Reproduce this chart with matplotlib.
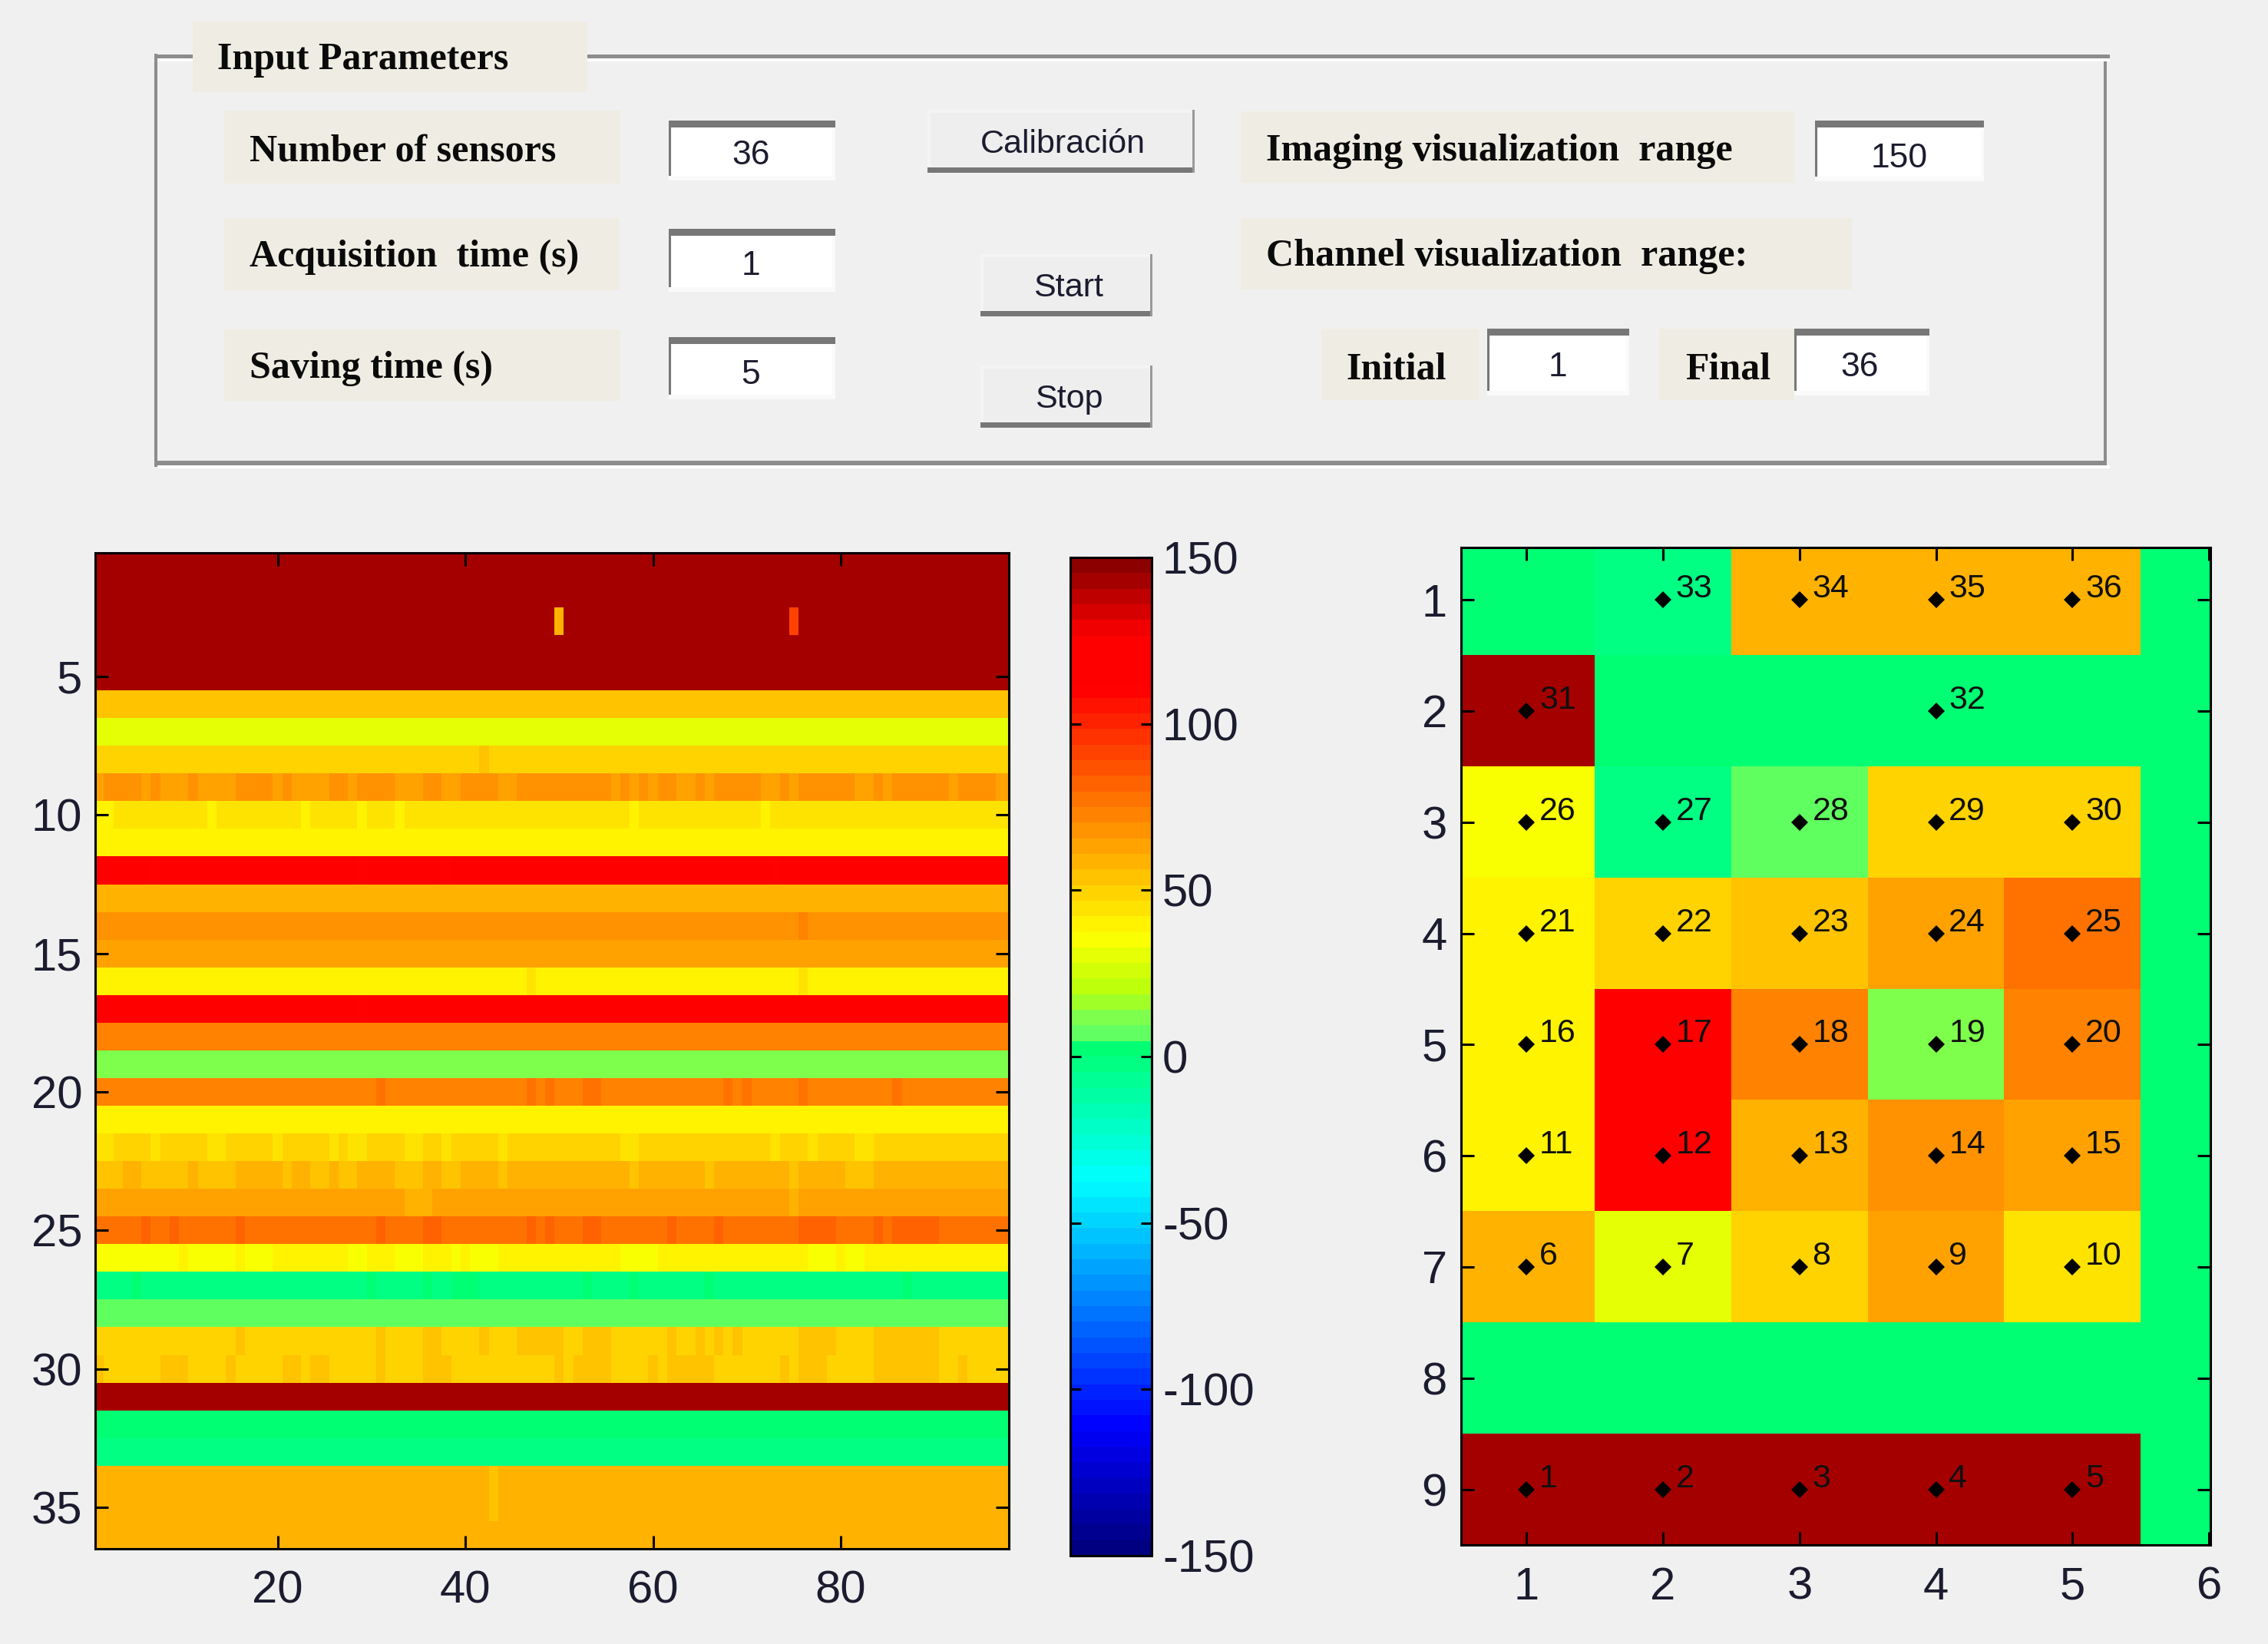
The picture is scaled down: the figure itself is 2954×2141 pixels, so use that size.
import numpy as np
import matplotlib
matplotlib.use('Agg')
import matplotlib.pyplot as plt
from matplotlib.colors import LinearSegmentedColormap
from matplotlib.patches import Rectangle

plt.rcParams['axes.unicode_minus'] = False

W, H = 2954, 2141
BG = '#f0f0f0'
LABEL_BG = '#efede3'
SANS = ['Liberation Sans', 'DejaVu Sans']
SERIF = ['Liberation Serif', 'DejaVu Serif']

# sensor readings by channel (row), one base level plus the columns that sit one level off
row_base = [143, 143, 143, 143, 143, 54, 30.5, 49, 63, 44.5, 40, 115, 58.5, 68, 63, 40, 115, 73, 12, 73,
            40, 49, 58.5, 63, 77.5, 40, -2.3, 7, 49, 49, 143, 2.3, -2.3, 58.5, 58.5, 58.5]
row_alt = {
    8: (54, [42]),
    9: (68, [2, 3, 4, 5, 7, 11, 16, 17, 18, 19, 21, 26, 27, 29, 30, 31, 32, 36, 37, 40, 41, 42, 43,
             46, 47, 48, 49, 50, 51, 52, 53, 54, 55, 57, 59, 61, 62, 65, 67, 68, 69, 70, 71, 74,
             76, 77, 78, 79, 80, 81, 84, 86, 87, 88, 89, 90, 91, 93, 94, 95, 96]),
    10: (40, [1, 2, 13, 23, 29, 33, 58, 72]),
    12: (110, [7, 29, 38, 73]),
    14: (73, [76]),
    16: (44.5, [47, 76]),
    17: (110, [29]),
    20: (77.5, [31, 47, 49, 53, 54, 68, 70, 76, 86]),
    22: (44.5, [1, 2, 7, 13, 14, 20, 26, 28, 29, 34, 35, 38, 44, 57, 58, 73, 77, 82, 83]),
    23: (54, [1, 2, 3, 6, 7, 8, 9, 10, 12, 13, 14, 15, 21, 24, 25, 27, 28, 33, 34, 35, 38, 39, 44,
              58, 66, 75, 81, 82, 83]),
    24: (58.5, [34, 35, 36, 75]),
    25: (82, [6, 9, 16, 31, 36, 37, 47, 49, 53, 54, 62, 67, 76, 77, 78, 79, 84, 86, 87, 88, 89, 90]),
    26: (35.7, [1, 2, 3, 4, 5, 6, 7, 8, 9, 11, 12, 13, 14, 15, 17, 18, 19, 28, 29, 33, 34, 35, 39, 41,
                42, 43, 57, 58, 59, 60, 77, 78, 79, 81, 82]),
    27: (2.3, [5, 30, 36, 39, 40, 41, 53, 58, 66, 87]),
    29: (54, [16, 31, 36, 37, 42, 46, 47, 48, 49, 50, 53, 54, 55, 62, 65, 67, 69, 76, 77, 78, 79,
              84, 85, 86, 87, 88, 89, 90]),
    30: (54, [1, 8, 9, 10, 15, 21, 22, 24, 25, 31, 36, 37, 38, 50, 52, 53, 54, 55, 60, 62, 63, 64, 65, 66,
              74, 76, 77, 78, 84, 85, 86, 87, 88, 89, 90, 93]),
    34: (54, [43]),
    35: (54, [43]),
}
spikes = [(3, 50, 58.5), (3, 75, 91)]

# sensor layout map, 9 rows by 6 columns
sensor_map = [
    [2.3, -2.3, 58.5, 58.5, 58.5, 2.3],
    [143, 2.3, 2.3, 2.3, 2.3, 2.3],
    [35.7, -2.3, 7, 49, 49, 2.3],
    [40, 49, 54, 63, 77.5, 2.3],
    [40, 115, 73, 12, 73, 2.3],
    [40, 115, 58.5, 68, 63, 2.3],
    [58.5, 30.5, 49, 63, 44.5, 2.3],
    [2.3, 2.3, 2.3, 2.3, 2.3, 2.3],
    [143, 143, 143, 143, 143, 2.3],
]
sensor_labels = [
    [None, 33, 34, 35, 36],
    [31, None, None, 32, None],
    [26, 27, 28, 29, 30],
    [21, 22, 23, 24, 25],
    [16, 17, 18, 19, 20],
    [11, 12, 13, 14, 15],
    [6, 7, 8, 9, 10],
    [None, None, None, None, None],
    [1, 2, 3, 4, 5],
]

left_xticks = [20, 40, 60, 80]
left_yticks = [5, 10, 15, 20, 25, 30, 35]
cbar_ticks = [-150, -100, -50, 0, 50, 100, 150]

# modified jet
cmap_values = [-150, -112.5, -37.5, 2.38, 7.14, 12, 20, 37, 112.5, 128, 150]
cmap_colors = [(0, 0, .5), (0, 0, 1), (0, 1, 1), (0, 1, .45), (.38, 1, .38), (.5, 1, .3),
               (.72, 1, .05), (1, 1, 0), (1, 0, 0), (1, 0, 0), (.55, 0, 0)]
cmap = LinearSegmentedColormap.from_list(
    'sensor_jet', [((v + 150) / 300, c) for v, c in zip(cmap_values, cmap_colors)], N=64)

# text boxes: x0, x1, y0, y1, text, text x, baseline
label_boxes = [
    (251, 765, 28, 120, 'Input Parameters', 283, 90),
    (292, 808, 144, 239, 'Number of sensors', 325, 210),
    (292, 806, 284, 378, 'Acquisition  time (s)', 325, 347),
    (292, 808, 429, 522, 'Saving time (s)', 325, 492),
    (1616, 2337, 145, 238, 'Imaging visualization  range', 1649, 209),
    (1616, 2412, 284, 377, 'Channel visualization  range:', 1649, 346),
    (1721, 1927, 428, 521, 'Initial', 1753, 493),
    (2161, 2337, 428, 521, 'Final', 2195, 493),
]
edit_boxes = [
    (871, 1088, 157, 235, '36', 978, 202),
    (871, 1088, 298, 380, '1', 978, 346),
    (871, 1088, 439, 520, '5', 978, 488),
    (2364, 2584, 157, 236, '150', 2474, 207),
    (1937, 2122, 428, 515, '1', 2029, 478),
    (2337, 2513, 428, 515, '36', 2422, 478),
]
buttons = [
    (1208, 1556, 143, 225, 'Calibración', 1384, 188),
    (1277, 1501, 331, 412, 'Start', 1392, 375),
    (1277, 1501, 476, 557, 'Stop', 1392, 520),
]


def px_axes(fig, x0, x1, y0, y1):
    return fig.add_axes([x0 / W, 1 - y1 / H, (x1 - x0) / W, (y1 - y0) / H])


def box(ax, x0, x1, y0, y1, color):
    ax.add_patch(Rectangle((x0, y0), x1 - x0, y1 - y0, facecolor=color, edgecolor='none'))


def style_axes(ax, fs=43):
    ax.tick_params(direction='in', top=True, right=True, length=12, width=2.2,
                   labelsize=fs, pad=12, colors='black', labelcolor='#1c1c30')
    for s in ax.spines.values():
        s.set_linewidth(2.2)
    for t in ax.get_xticklabels() + ax.get_yticklabels():
        t.set_family(SANS)


matrix = np.zeros((36, 98))
for i, v in enumerate(row_base):
    matrix[i, :] = v
for row, (val, cols) in row_alt.items():
    for c in cols:
        matrix[row - 1, c - 1] = val
for row, col, val in spikes:
    matrix[row - 1, col - 1] = val

fig = plt.figure(figsize=(W / 100, H / 100), dpi=100, facecolor=BG)

# GUI panel drawn in pixel coordinates
gui = fig.add_axes([0, 0, 1, 1])
gui.set_xlim(0, W)
gui.set_ylim(H, 0)
gui.axis('off')

for seg in [(201, 205, 70, 608), (2740, 2744, 72, 604)]:
    box(gui, seg[0], seg[1], seg[2], seg[3], '#8c8c8c')
box(gui, 205, 2748, 71, 76, '#8c8c8c')
box(gui, 205, 2748, 76, 80, '#ffffff')
box(gui, 205, 2744, 600, 606, '#8c8c8c')
box(gui, 205, 2748, 606, 610, '#ffffff')

for x0, x1, y0, y1, txt, tx, ty in label_boxes:
    box(gui, x0, x1, y0, y1, LABEL_BG)
    gui.text(tx, ty, txt, family=SERIF, weight='bold', fontsize=36, color='#0a0a0a',
             ha='left', va='baseline')

for x0, x1, y0, y1, txt, tx, ty in edit_boxes:
    box(gui, x0, x1, y0, y1, '#fafafa')
    box(gui, x0 + 4, x1 - 4, y0 + 4, y1 - 6, '#ffffff')
    box(gui, x0, x1, y0, y0 + 9, '#777777')
    box(gui, x0, x0 + 3, y0, y1 - 6, '#777777')
    gui.text(tx, ty, txt, family=SANS, fontsize=32, color='#1c1c30', ha='center', va='center')

for x0, x1, y0, y1, txt, tx, ty in buttons:
    box(gui, x0, x1, y0, y1, '#f4f4f4')
    box(gui, x0 + 4, x1 - 4, y0 + 4, y1 - 8, '#eeeeee')
    box(gui, x0, x1, y1 - 7, y1, '#777777')
    box(gui, x1 - 3, x1, y0, y1, '#999999')
    gui.text(tx, ty, txt, family=SANS, fontsize=31, color='#1c1c30', ha='center', va='center')

# channel against time
ax1 = px_axes(fig, 124, 1314, 720, 2017)
im = ax1.imshow(matrix, cmap=cmap, vmin=-150, vmax=150, aspect='auto', interpolation='nearest',
                extent=[.5, 98.5, 36.5, .5])
ax1.set_xlim(.57, 97.9)
ax1.set_ylim(36.5, .53)
ax1.set_xticks(left_xticks)
ax1.set_yticks(left_yticks)
style_axes(ax1)
ax1.tick_params(axis='x', pad=20)

# colour bar
cax = px_axes(fig, 1394, 1500, 726, 2026)
cb = fig.colorbar(im, cax=cax, ticks=cbar_ticks)
cb.outline.set_linewidth(2.2)
cax.tick_params(direction='in', left=True, right=True, length=10, width=2.2, labelsize=43, pad=10,
                labelcolor='#1c1c30')
for t in cax.get_yticklabels():
    t.set_family(SANS)

# sensor layout
ax2 = px_axes(fig, 1903, 2879, 713, 2012)
ax2.imshow(sensor_map, cmap=cmap, vmin=-150, vmax=150, aspect='auto', interpolation='nearest',
           extent=[.5, 6.5, 9.5, .5])
ax2.set_xlim(.52, 6.01)
ax2.set_ylim(9.5, .53)
ax2.set_xticks([1, 2, 3, 4, 5, 6])
ax2.set_yticks([1, 2, 3, 4, 5, 6, 7, 8, 9])
style_axes(ax2)
ax2.tick_params(axis='x', pad=20)
ax2.tick_params(axis='y', pad=13)

for r, row in enumerate(sensor_labels):
    for c, lab in enumerate(row):
        if lab is None:
            continue
        ax2.plot(c + 1, r + 1, 'D', color='black', ms=11, mew=0)
        ax2.annotate(str(lab), (c + 1, r + 1), xytext=(12, 10), textcoords='offset points',
                     family=SANS, fontsize=31, color='#101010', ha='left', va='center')

fig.savefig('out.png', dpi=100, facecolor=BG)
